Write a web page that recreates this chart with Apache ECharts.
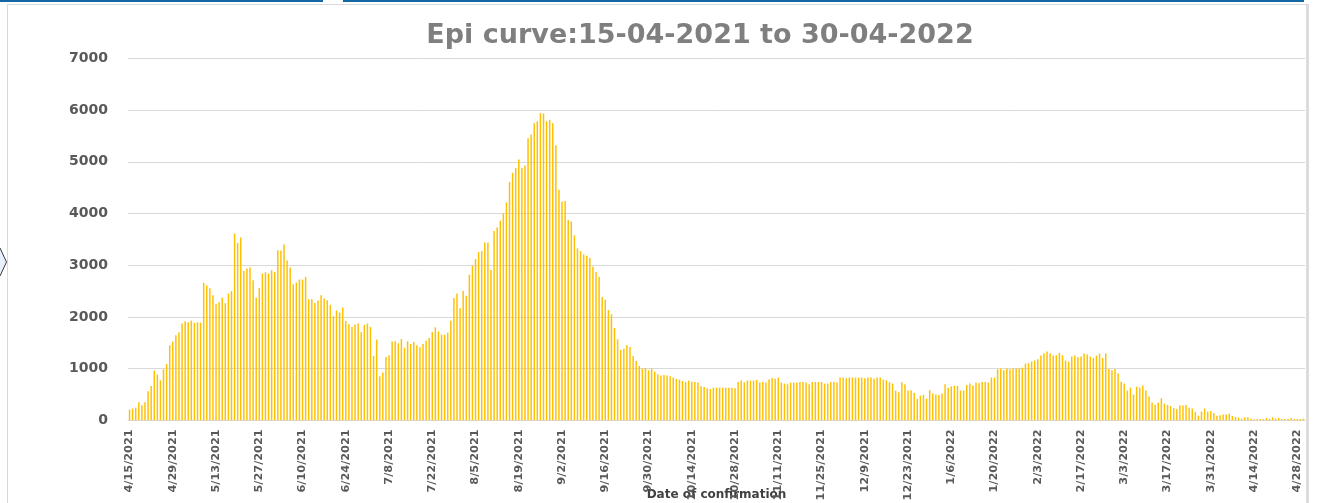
<!DOCTYPE html>
<html>
<head>
<meta charset="utf-8">
<title>Epi curve</title>
<script src="https://cdn.jsdelivr.net/npm/echarts@6/dist/echarts.min.js"></script>
<style>
	html, body { margin: 0; padding: 0; background: #fff; }
	#main { width: 1320px; height: 503px; }
</style>
</head>
<body>
<div id="main"></div>
<script>
// daily confirmed cases, 15-04-2021 .. 30-04-2022
var cases = [
	206, 226, 245, 348, 290, 348, 561, 665, 961, 884,
	774, 987, 1090, 1452, 1523, 1645, 1703, 1871, 1916, 1897,
	1929, 1884, 1897, 1890, 2658, 2606, 2555, 2419, 2252, 2284,
	2368, 2265, 2452, 2497, 3613, 3432, 3535, 2890, 2935, 2955,
	2710, 2368, 2561, 2839, 2865, 2839, 2903, 2865, 3290, 3284,
	3400, 3090, 2955, 2632, 2665, 2723, 2723, 2774, 2342, 2342,
	2271, 2316, 2419, 2355, 2323, 2232, 2013, 2123, 2084, 2181,
	1923, 1858, 1806, 1852, 1871, 1703, 1845, 1871, 1806, 1245,
	1561, 852, 923, 1226, 1258, 1523, 1529, 1490, 1572, 1405,
	1527, 1476, 1514, 1450, 1411, 1476, 1540, 1592, 1708, 1798,
	1720, 1656, 1656, 1695, 1927, 2365, 2455, 2165, 2500, 2410,
	2816, 2990, 3119, 3254, 3273, 3441, 3441, 2906, 3660, 3731,
	3860, 4001, 4214, 4607, 4787, 4878, 5045, 4878, 4929, 5457,
	5528, 5747, 5786, 5941, 5934, 5786, 5812, 5747, 5322, 4459,
	4227, 4240, 3872, 3847, 3576, 3325, 3273, 3209, 3183, 3138,
	2970, 2867, 2777, 2384, 2333, 2133, 2049, 1785, 1566, 1360,
	1385, 1456, 1418, 1244, 1147, 1052, 1000, 1013, 968, 1000,
	942, 890, 865, 877, 865, 852, 826, 800, 787, 761,
	742, 768, 748, 742, 729, 658, 645, 619, 606, 632,
	632, 632, 632, 632, 632, 632, 619, 742, 768, 735,
	768, 768, 768, 781, 729, 742, 729, 787, 819, 806,
	826, 729, 710, 697, 729, 729, 729, 742, 742, 729,
	697, 742, 742, 742, 742, 710, 710, 742, 748, 729,
	826, 826, 813, 826, 826, 826, 826, 826, 813, 826,
	826, 806, 826, 826, 787, 774, 735, 710, 574, 542,
	735, 697, 574, 581, 535, 413, 477, 490, 419, 581,
	516, 497, 490, 516, 697, 632, 658, 671, 665, 574,
	574, 684, 710, 671, 729, 716, 742, 742, 729, 826,
	826, 987, 1000, 968, 1000, 987, 1000, 1000, 1000, 1019,
	1097, 1103, 1135, 1155, 1181, 1252, 1297, 1329, 1297, 1252,
	1258, 1303, 1258, 1155, 1135, 1232, 1252, 1219, 1232, 1290,
	1271, 1232, 1206, 1252, 1290, 1206, 1290, 994, 968, 994,
	903, 748, 710, 574, 632, 497, 652, 632, 671, 574,
	458, 342, 303, 342, 426, 323, 297, 277, 239, 219,
	290, 284, 297, 245, 226, 161, 90, 168, 226, 168,
	181, 142, 90, 97, 110, 110, 129, 84, 65, 52,
	32, 58, 58, 32, 19, 19, 26, 26, 45, 26,
	58, 32, 45, 26, 26, 26, 45, 26, 26, 26, 32
];

// one category per day, labelled like m/d/yyyy
var dates = [];
var d = new Date(2021, 3, 15);
for (var i = 0; i < cases.length; i++) {
	dates.push((d.getMonth() + 1) + '/' + d.getDate() + '/' + d.getFullYear());
	d.setDate(d.getDate() + 1);
}

var yTicks = { min: 0, max: 7000, step: 1000 };
var labelColor = '#595959';
var font = 'DejaVu Sans';

var myChart = echarts.init(document.getElementById('main'));
var option = {
	backgroundColor: '#fff',
	animation: false,
	title: {
		text: 'Epi curve:15-04-2021 to 30-04-2022',
		left: 695,
		top: 17,
		textAlign: 'center',
		textStyle: {
			color: '#7f7f7f',
			fontSize: 27,
			fontWeight: 'bold',
			fontFamily: font
		}
	},
	grid: {
		left: 128,
		right: 15,
		top: 58.4,
		bottom: 82.7,
		outerBoundsMode: 'none'
	},
	xAxis: {
		type: 'category',
		data: dates,
		name: 'Date of confirmation',
		nameLocation: 'middle',
		nameGap: 69,
		nameMoveOverlap: false,
		nameTextStyle: {
			color: '#404040',
			fontSize: 12,
			fontWeight: 'bold',
			fontFamily: font
		},
		axisLine: { lineStyle: { color: '#d9d9d9' } },
		axisTick: { show: false },
		axisLabel: {
			interval: 13,
			rotate: 90,
			margin: 9,
			color: labelColor,
			fontSize: 11.3,
			fontWeight: 'bold',
			fontFamily: font
		}
	},
	yAxis: {
		type: 'value',
		min: yTicks.min,
		max: yTicks.max,
		interval: yTicks.step,
		axisLine: { show: false },
		axisTick: { show: false },
		splitLine: { lineStyle: { color: '#d9d9d9' } },
		axisLabel: {
			margin: 20,
			color: labelColor,
			fontSize: 14,
			fontWeight: 'bold',
			fontFamily: font,
			formatter: function (v) { return String(v); }
		}
	},
	series: [{
		type: 'bar',
		data: cases,
		barWidth: '48%',
		itemStyle: { color: '#FFC000' }
	}],
	graphic: [
		// page bits round the chart picture
		{ type: 'rect', shape: { x: 0, y: 0, width: 323, height: 2 }, style: { fill: '#1467a3' } },
		{ type: 'rect', shape: { x: 343, y: 0, width: 961, height: 2 }, style: { fill: '#1467a3' } },
		{ type: 'rect', shape: { x: 7.5, y: 4.5, width: 1299, height: 510 }, style: { fill: 'none', stroke: '#d9d9d9', lineWidth: 1 } },
		{ type: 'rect', shape: { x: 1306, y: 4, width: 3, height: 499 }, style: { fill: '#dcdcdc' } },
		{
			type: 'polygon',
			shape: { points: [[-4, 248], [0, 248], [6.5, 262], [0, 276], [-4, 276]] },
			style: { fill: '#e8f0fe', stroke: '#3a3a3a', lineWidth: 1 }
		}
	]
};
myChart.setOption(option);
</script>
</body>
</html>
